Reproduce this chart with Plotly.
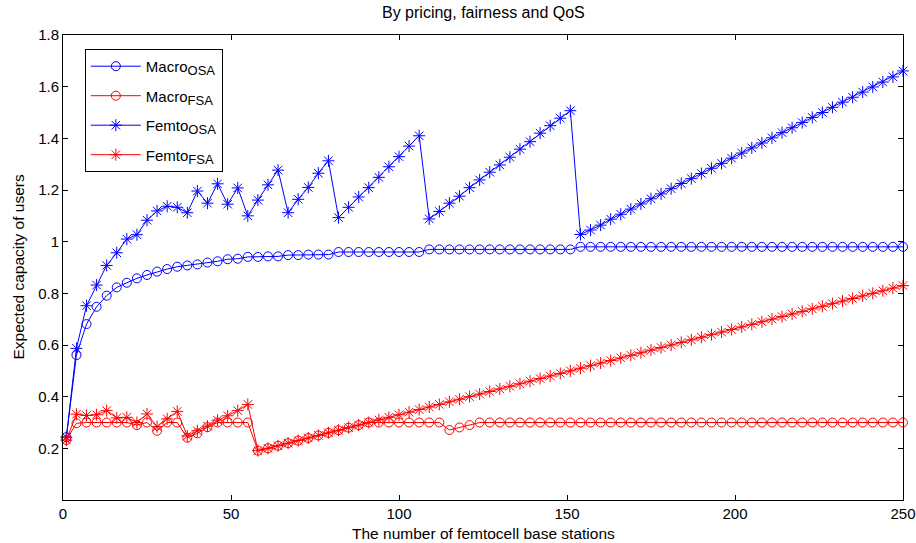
import plotly.graph_objects as go

# number of femtocell base stations (sampling grid 1, 4, ..., 250)
n_femto = list(range(1, 251, 3))

macro_osa = [
    0.243, 0.561, 0.681, 0.748, 0.791, 0.823, 0.841, 0.858, 0.871, 0.884,
    0.894, 0.903, 0.908, 0.912, 0.919, 0.924, 0.932, 0.934, 0.941, 0.941,
    0.943, 0.943, 0.948, 0.948, 0.950, 0.950, 0.950,
    0.960, 0.960, 0.960, 0.960, 0.960, 0.960, 0.960, 0.960, 0.960,
    0.970, 0.970, 0.970, 0.970, 0.970, 0.970, 0.970, 0.970, 0.970, 0.970,
    0.970, 0.970, 0.970, 0.970, 0.970,
    0.980, 0.980, 0.980, 0.980, 0.980, 0.980, 0.980, 0.980, 0.980, 0.980,
    0.980, 0.980, 0.980, 0.980, 0.980, 0.980, 0.980, 0.980, 0.980, 0.980,
    0.980, 0.980, 0.980, 0.980, 0.980, 0.980, 0.980, 0.980, 0.980, 0.980,
    0.980, 0.980, 0.980,
]

macro_fsa = [
    0.232, 0.297, 0.300, 0.300, 0.300, 0.300, 0.300, 0.290, 0.300, 0.268,
    0.300, 0.300, 0.241, 0.258, 0.282, 0.300, 0.300, 0.300, 0.300, 0.191,
    0.200, 0.210, 0.220, 0.230, 0.240, 0.250, 0.260, 0.270, 0.280, 0.290,
    0.300, 0.300, 0.300, 0.300, 0.300, 0.300, 0.300, 0.300,
    0.271, 0.281, 0.290,
    0.300, 0.300, 0.300, 0.300, 0.300, 0.300, 0.300, 0.300, 0.300, 0.300,
    0.300, 0.300, 0.300, 0.300, 0.300, 0.300, 0.300, 0.300, 0.300, 0.300,
    0.300, 0.300, 0.300, 0.300, 0.300, 0.300, 0.300, 0.300, 0.300, 0.300,
    0.300, 0.300, 0.300, 0.300, 0.300, 0.300, 0.300, 0.300, 0.300, 0.300,
    0.300, 0.300, 0.300,
]

femto_osa = [
    0.243, 0.587, 0.752, 0.832, 0.908, 0.957, 1.010, 1.027, 1.083, 1.119,
    1.137, 1.133, 1.112, 1.196, 1.149, 1.224, 1.145, 1.208, 1.100, 1.161,
    1.220, 1.277, 1.112, 1.164, 1.210, 1.265, 1.313,
    1.093, 1.133, 1.173, 1.209, 1.249, 1.290, 1.329, 1.370, 1.410,
    1.088, 1.117, 1.149, 1.176, 1.209, 1.239, 1.269, 1.297, 1.327, 1.358,
    1.387, 1.420, 1.449, 1.478, 1.507,
    1.028, 1.045, 1.064, 1.087, 1.106, 1.126, 1.146, 1.166, 1.185, 1.205,
    1.225, 1.244, 1.264, 1.284, 1.303, 1.323, 1.343, 1.363, 1.382, 1.402,
    1.422, 1.441, 1.461, 1.481, 1.500, 1.520, 1.540, 1.559, 1.579, 1.599,
    1.618, 1.638, 1.661,
]

femto_fsa = [
    0.232, 0.332, 0.327, 0.330, 0.346, 0.318, 0.320, 0.300, 0.333, 0.284,
    0.314, 0.343, 0.248, 0.268, 0.286, 0.309, 0.326, 0.346, 0.370, 0.191,
    0.200, 0.210, 0.220, 0.230, 0.240, 0.250, 0.260, 0.270, 0.280, 0.290,
    0.300, 0.310, 0.320, 0.330, 0.340, 0.350, 0.360, 0.370, 0.380, 0.390,
    0.400, 0.410, 0.420, 0.430, 0.440, 0.450, 0.460, 0.470, 0.480, 0.490,
    0.500, 0.510, 0.520, 0.530, 0.540, 0.550, 0.560, 0.570, 0.580, 0.590,
    0.600, 0.610, 0.620, 0.630, 0.640, 0.650, 0.660, 0.670, 0.680, 0.690,
    0.700, 0.710, 0.720, 0.730, 0.740, 0.750, 0.760, 0.770, 0.780, 0.790,
    0.800, 0.810, 0.820, 0.830,
]


def sub_label(base, idx):
    return f"{base}<sub><span style='font-size:13px'>{idx}</span></sub>"


series = [
    (sub_label("Macro", "OSA"), macro_osa, "#0000FF", "circle-open", 9),
    (sub_label("Macro", "FSA"), macro_fsa, "#FF0000", "circle-open", 9),
    (sub_label("Femto", "OSA"), femto_osa, "#0000FF", "asterisk-open", 10),
    (sub_label("Femto", "FSA"), femto_fsa, "#FF0000", "asterisk-open", 10),
]

FONT = "Liberation Sans, Arial, Helvetica, sans-serif"

fig = go.Figure()
for i, (name, vals, color, symbol, size) in enumerate(series):
    fig.add_trace(go.Scatter(
        x=n_femto, y=vals, name=name, mode="lines+markers",
        legendgroup=f"g{i}",
        line=dict(color=color, width=1),
        marker=dict(symbol=symbol, size=size, color=color,
                    line=dict(color=color, width=1)),
        cliponaxis=False,
    ))

axis_common = dict(
    showline=True, linecolor="black", linewidth=1, mirror="ticks",
    ticks="inside", ticklen=5, tickcolor="black", tickwidth=1,
    showgrid=False, zeroline=False, automargin=False,
    tickfont=dict(family=FONT, size=15, color="black"),
)

fig.update_layout(
    width=916, height=543,
    margin=dict(l=63, r=13, t=35, b=43),
    paper_bgcolor="white", plot_bgcolor="white",
    font=dict(family=FONT, size=15, color="black"),
    xaxis=dict(range=[0, 250], tickvals=[0, 50, 100, 150, 200, 250], **axis_common),
    yaxis=dict(range=[0, 1.8],
               tickvals=[0.2, 0.4, 0.6, 0.8, 1.0, 1.2, 1.4, 1.6, 1.8],
               ticktext=["0.2", "0.4", "0.6", "0.8", "1", "1.2", "1.4", "1.6", "1.8"],
               **axis_common),
    showlegend=True,
    legend=dict(
        x=0.026, y=0.970, xanchor="left", yanchor="top",
        bgcolor="white", bordercolor="black", borderwidth=1,
        font=dict(family=FONT, size=15, color="black"),
        tracegroupgap=7, itemwidth=50,
    ),
    annotations=[
        dict(text="By pricing, fairness and QoS", xref="paper", yref="paper",
             x=0.5, y=1, yshift=23, xanchor="center", yanchor="middle",
             showarrow=False, font=dict(family=FONT, size=16)),
        dict(text="The number of femtocell base stations", xref="paper", yref="paper",
             x=0.5, y=0, yshift=-33, xanchor="center", yanchor="middle",
             showarrow=False, font=dict(family=FONT, size=15.5)),
        dict(text="Expected capacity of users", xref="paper", yref="paper",
             x=0, y=0.5, xshift=-45, xanchor="center", yanchor="middle",
             textangle=-90, showarrow=False, font=dict(family=FONT, size=15.5)),
    ],
)

fig.write_html("out.html")
